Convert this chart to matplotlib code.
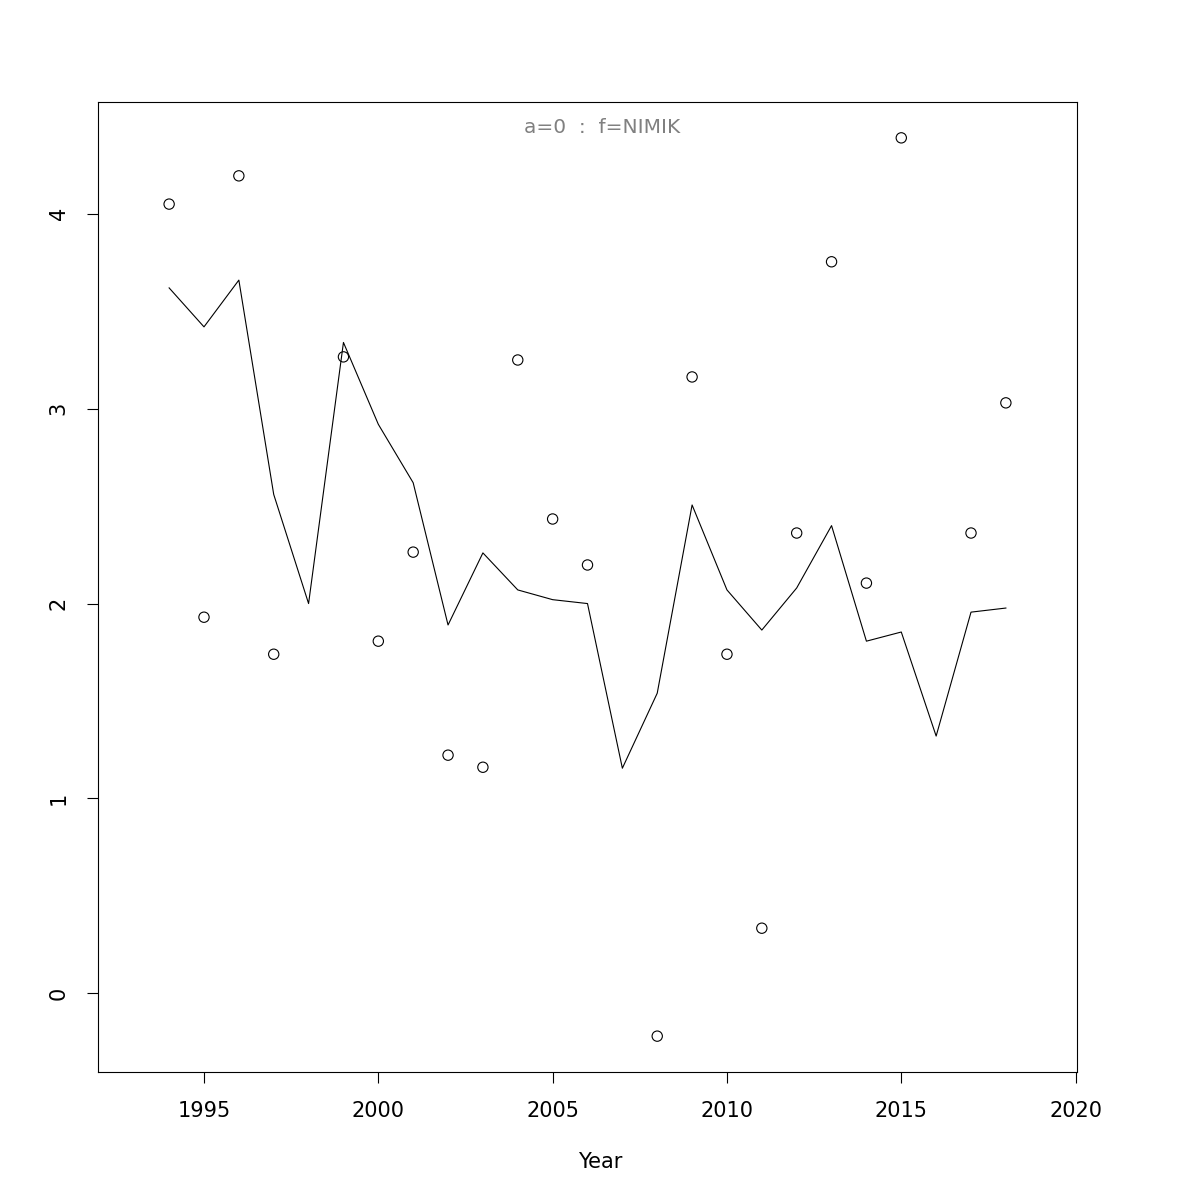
import numpy as np
import matplotlib.pyplot as plt

# observed points (no obs in 1998, 2007, 2016)
obs_years = [1994, 1995, 1996, 1997, 1999, 2000, 2001, 2002, 2003, 2004, 2005,
             2006, 2008, 2009, 2010, 2011, 2012, 2013, 2014, 2015, 2017, 2018]
obs_vals = [4.05, 1.93, 4.195, 1.74, 3.266, 1.807, 2.264, 1.222, 1.16, 3.25, 2.434,
            2.198, -0.22, 3.163, 1.74, 0.334, 2.362, 3.754, 2.105, 4.39, 2.362, 3.03]

# fitted line
fit_years = list(range(1994, 2019))
fit_vals = [3.62, 3.42, 3.66, 2.56, 2.00, 3.34, 2.92, 2.62, 1.89, 2.26, 2.07, 2.02,
            2.00, 1.155, 1.54, 2.506, 2.07, 1.864, 2.08, 2.40, 1.807, 1.854, 1.32,
            1.956, 1.977]

xticks = [1995, 2000, 2005, 2010, 2015, 2020]
yticks = [0, 1, 2, 3, 4]

fig = plt.figure(figsize=(12, 12), dpi=100)
ax = fig.add_axes([98 / 1200, 1 - 1072 / 1200, (1077 - 98) / 1200, (1072 - 102) / 1200])

ax.plot(fit_years, fit_vals, color='black', lw=0.8)
ax.scatter(obs_years, obs_vals, s=55, facecolors='none', edgecolors='black', linewidths=0.8)

ax.set_xlim(1991.96, 2020.04)
ax.set_ylim(-0.404, 4.574)

ax.set_xticks(xticks)
ax.set_yticks(yticks)
ax.tick_params(axis='both', length=8, width=0.8, labelsize=15, pad=13)
for lab in ax.get_yticklabels():
    lab.set_rotation(90)
    lab.set_va('center')
for s in ax.spines.values():
    s.set_linewidth(0.8)

ax.set_xlabel('Year', fontsize=15)
ax.xaxis.set_label_coords(0.513, -0.093)
ax.xaxis.label.set_va('center')
ax.text(0.515, 0.974, 'a=0  :  f=NIMIK', transform=ax.transAxes, ha='center', va='center',
        fontsize=14.5, color='gray')

fig.savefig('out.png')
